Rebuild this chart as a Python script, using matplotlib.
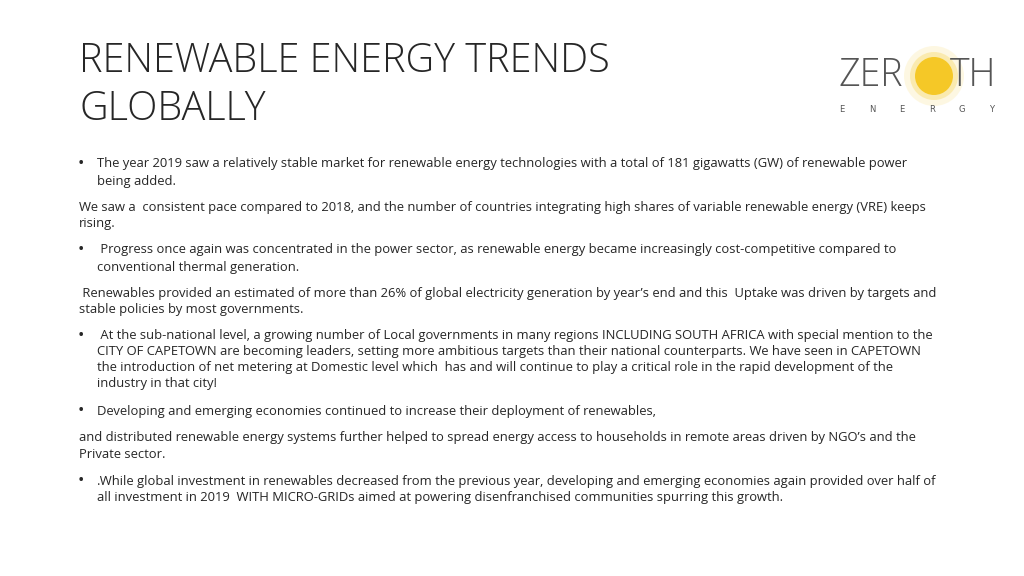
import matplotlib
matplotlib.use("Agg")
import matplotlib.pyplot as plt
from matplotlib.patches import Circle

W, H = 1024, 576
title_lines = ["RENEWABLE ENERGY TRENDS", "GLOBALLY"]
# (bullet?, indent_x, y_px, text)
body_lines = [
    (True, 97, 164, "The year 2019 saw a relatively stable market for renewable energy technologies with a total of 181 gigawatts (GW) of renewable power"),
    (False, 97, 181, "being added."),
    (False, 79, 207, "We saw a  consistent pace compared to 2018, and the number of countries integrating high shares of variable renewable energy (VRE) keeps"),
    (False, 79, 223, "rising."),
    (True, 97, 250, " Progress once again was concentrated in the power sector, as renewable energy became increasingly cost-competitive compared to"),
    (False, 97, 267, "conventional thermal generation."),
    (False, 79, 293, " Renewables provided an estimated of more than 26% of global electricity generation by year\u2019s end and this  Uptake was driven by targets and"),
    (False, 79, 309, "stable policies by most governments."),
    (True, 97, 336, " At the sub-national level, a growing number of Local governments in many regions INCLUDING SOUTH AFRICA with special mention to the"),
    (False, 97, 352, "CITY OF CAPETOWN are becoming leaders, setting more ambitious targets than their national counterparts. We have seen in CAPETOWN"),
    (False, 97, 368, "the introduction of net metering at Domestic level which  has and will continue to play a critical role in the rapid development of the"),
    (False, 97, 384, "industry in that city!"),
    (True, 97, 411, "Developing and emerging economies continued to increase their deployment of renewables,"),
    (False, 79, 438, "and distributed renewable energy systems further helped to spread energy access to households in remote areas driven by NGO\u2019s and the"),
    (False, 79, 454, "Private sector."),
    (True, 97, 481, ".While global investment in renewables decreased from the previous year, developing and emerging economies again provided over half of"),
    (False, 97, 497, "all investment in 2019  WITH MICRO-GRIDs aimed at powering disenfranchised communities spurring this growth."),
]

fig = plt.figure(figsize=(W/100, H/100), dpi=100)
ax = fig.add_axes([0, 0, 1, 1])
ax.set_xlim(0, W); ax.set_ylim(H, 0); ax.axis("off")

for i, t in enumerate(title_lines):
    ax.text(79, 62 + i*47, t, fontsize=28.5, family="Open Sans", fontweight="light",
            color="#262626", va="center", ha="left")

for b, x, y, t in body_lines:
    if b:
        ax.text(78, y, "\u2022", fontsize=12, family="Open Sans", color="#262626", va="center")
    ax.text(x, y, t, fontsize=9.35, family="Open Sans", color="#262626", va="center", ha="left")

# logo
for r, a in [(30, 0.12), (24, 0.25), (19, 0.9)]:
    ax.add_patch(Circle((934, 76), r, color="#f5c518", alpha=a, lw=0))
ax.text(838, 76, "ZER", fontsize=27, family="Open Sans", fontweight="light",
        color="#555555", va="center", ha="left")
ax.text(950, 76, "TH", fontsize=27, family="Open Sans", fontweight="light",
        color="#555555", va="center", ha="left")
for i, c in enumerate("ENERGY"):
    ax.text(842 + i*30, 109, c, fontsize=6, color="#555555", va="center", ha="center")

fig.savefig("out.png", dpi=100)
